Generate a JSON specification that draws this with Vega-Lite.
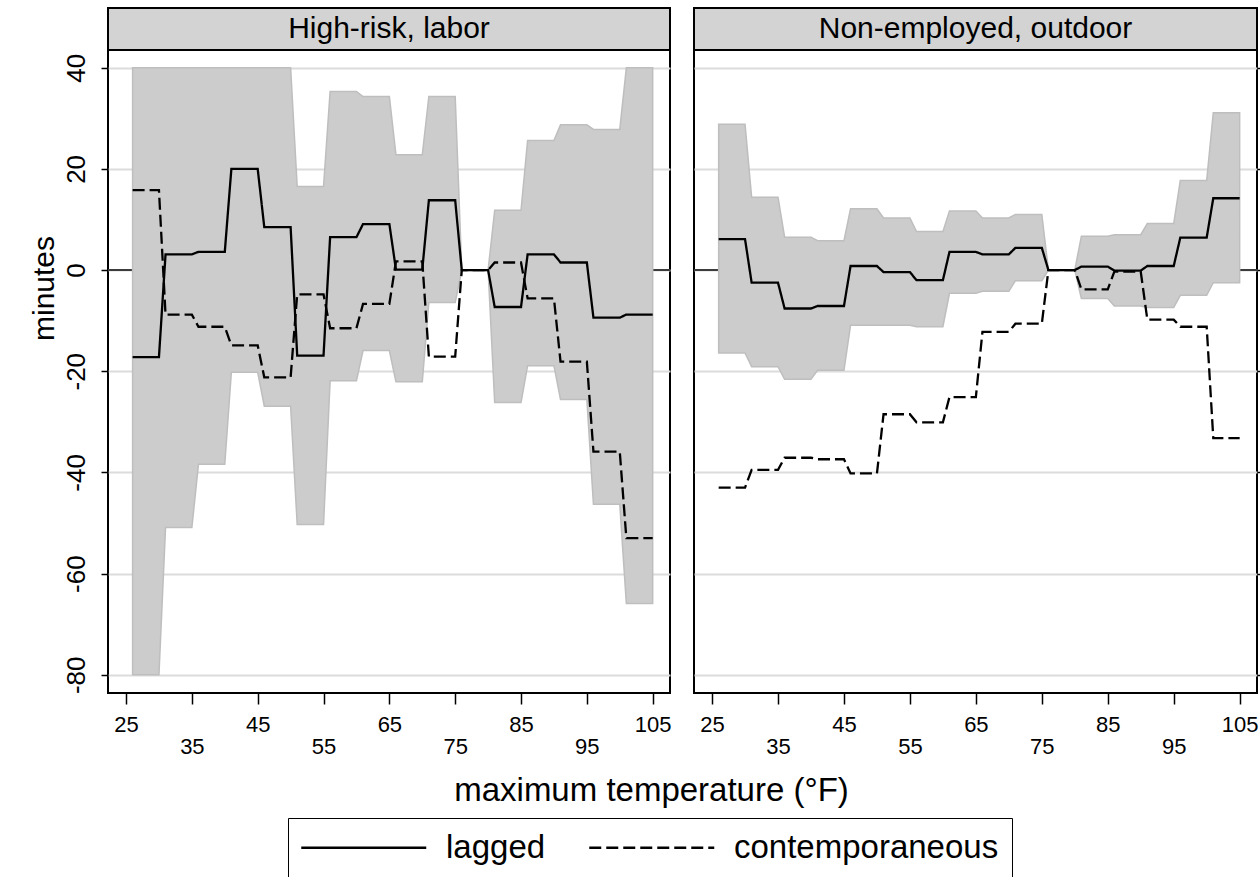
{
  "$schema": "https://vega.github.io/schema/vega-lite/v6.json",
  "padding": {"left": 28, "top": 7, "right": 0, "bottom": 0},
  "background": "white",
  "config": {
    "font": "Liberation Sans",
    "view": {"stroke": "black", "strokeWidth": 2}
  },
  "datasets": {
    "d": [
      {"p": "labor", "t": 26, "lagged": -17.2, "contemporaneous": 15.8, "lo": -80, "hi": 40},
      {"p": "labor", "t": 30, "lagged": -17.2, "contemporaneous": 15.8, "lo": -80, "hi": 40},
      {"p": "labor", "t": 31, "lagged": 3.1, "contemporaneous": -8.8, "lo": -50.9, "hi": 40},
      {"p": "labor", "t": 35, "lagged": 3.1, "contemporaneous": -8.8, "lo": -50.9, "hi": 40},
      {"p": "labor", "t": 36, "lagged": 3.6, "contemporaneous": -11.2, "lo": -38.4, "hi": 40},
      {"p": "labor", "t": 40, "lagged": 3.6, "contemporaneous": -11.2, "lo": -38.4, "hi": 40},
      {"p": "labor", "t": 41, "lagged": 20.0, "contemporaneous": -14.9, "lo": -20.2, "hi": 40},
      {"p": "labor", "t": 45, "lagged": 20.0, "contemporaneous": -14.9, "lo": -20.2, "hi": 40},
      {"p": "labor", "t": 46, "lagged": 8.5, "contemporaneous": -21.2, "lo": -26.9, "hi": 40},
      {"p": "labor", "t": 50, "lagged": 8.5, "contemporaneous": -21.2, "lo": -26.9, "hi": 40},
      {"p": "labor", "t": 51, "lagged": -16.9, "contemporaneous": -4.8, "lo": -50.3, "hi": 16.5},
      {"p": "labor", "t": 55, "lagged": -16.9, "contemporaneous": -4.8, "lo": -50.3, "hi": 16.5},
      {"p": "labor", "t": 56, "lagged": 6.5, "contemporaneous": -11.5, "lo": -21.9, "hi": 35.3},
      {"p": "labor", "t": 60, "lagged": 6.5, "contemporaneous": -11.5, "lo": -21.9, "hi": 35.3},
      {"p": "labor", "t": 61, "lagged": 9.1, "contemporaneous": -6.7, "lo": -15.9, "hi": 34.3},
      {"p": "labor", "t": 65, "lagged": 9.1, "contemporaneous": -6.7, "lo": -15.9, "hi": 34.3},
      {"p": "labor", "t": 66, "lagged": 0.1, "contemporaneous": 1.7, "lo": -22.1, "hi": 22.8},
      {"p": "labor", "t": 70, "lagged": 0.1, "contemporaneous": 1.7, "lo": -22.1, "hi": 22.8},
      {"p": "labor", "t": 71, "lagged": 13.8, "contemporaneous": -17.1, "lo": -6.4, "hi": 34.3},
      {"p": "labor", "t": 75, "lagged": 13.8, "contemporaneous": -17.1, "lo": -6.4, "hi": 34.3},
      {"p": "labor", "t": 76, "lagged": 0, "contemporaneous": 0, "lo": 0, "hi": 0},
      {"p": "labor", "t": 80, "lagged": 0, "contemporaneous": 0, "lo": 0, "hi": 0},
      {"p": "labor", "t": 81, "lagged": -7.3, "contemporaneous": 1.5, "lo": -26.2, "hi": 11.8},
      {"p": "labor", "t": 85, "lagged": -7.3, "contemporaneous": 1.5, "lo": -26.2, "hi": 11.8},
      {"p": "labor", "t": 86, "lagged": 3.1, "contemporaneous": -5.6, "lo": -18.9, "hi": 25.6},
      {"p": "labor", "t": 90, "lagged": 3.1, "contemporaneous": -5.6, "lo": -18.9, "hi": 25.6},
      {"p": "labor", "t": 91, "lagged": 1.5, "contemporaneous": -18.1, "lo": -25.6, "hi": 28.7},
      {"p": "labor", "t": 95, "lagged": 1.5, "contemporaneous": -18.1, "lo": -25.6, "hi": 28.7},
      {"p": "labor", "t": 96, "lagged": -9.4, "contemporaneous": -35.9, "lo": -46.3, "hi": 27.8},
      {"p": "labor", "t": 100, "lagged": -9.4, "contemporaneous": -35.9, "lo": -46.3, "hi": 27.8},
      {"p": "labor", "t": 101, "lagged": -8.8, "contemporaneous": -53.0, "lo": -65.9, "hi": 40},
      {"p": "labor", "t": 105, "lagged": -8.8, "contemporaneous": -53.0, "lo": -65.9, "hi": 40},
      {"p": "outdoor", "t": 26, "lagged": 6.1, "contemporaneous": -43.0, "lo": -16.4, "hi": 28.8},
      {"p": "outdoor", "t": 30, "lagged": 6.1, "contemporaneous": -43.0, "lo": -16.4, "hi": 28.8},
      {"p": "outdoor", "t": 31, "lagged": -2.5, "contemporaneous": -39.5, "lo": -19.1, "hi": 14.4},
      {"p": "outdoor", "t": 35, "lagged": -2.5, "contemporaneous": -39.5, "lo": -19.1, "hi": 14.4},
      {"p": "outdoor", "t": 36, "lagged": -7.6, "contemporaneous": -37.1, "lo": -21.6, "hi": 6.5},
      {"p": "outdoor", "t": 40, "lagged": -7.6, "contemporaneous": -37.1, "lo": -21.6, "hi": 6.5},
      {"p": "outdoor", "t": 41, "lagged": -7.1, "contemporaneous": -37.4, "lo": -19.8, "hi": 5.8},
      {"p": "outdoor", "t": 45, "lagged": -7.1, "contemporaneous": -37.4, "lo": -19.8, "hi": 5.8},
      {"p": "outdoor", "t": 46, "lagged": 0.8, "contemporaneous": -40.2, "lo": -10.9, "hi": 12.1},
      {"p": "outdoor", "t": 50, "lagged": 0.8, "contemporaneous": -40.2, "lo": -10.9, "hi": 12.1},
      {"p": "outdoor", "t": 51, "lagged": -0.4, "contemporaneous": -28.5, "lo": -10.9, "hi": 10.3},
      {"p": "outdoor", "t": 55, "lagged": -0.4, "contemporaneous": -28.5, "lo": -10.9, "hi": 10.3},
      {"p": "outdoor", "t": 56, "lagged": -2.0, "contemporaneous": -30.1, "lo": -11.2, "hi": 7.6},
      {"p": "outdoor", "t": 60, "lagged": -2.0, "contemporaneous": -30.1, "lo": -11.2, "hi": 7.6},
      {"p": "outdoor", "t": 61, "lagged": 3.6, "contemporaneous": -25.1, "lo": -4.6, "hi": 11.7},
      {"p": "outdoor", "t": 65, "lagged": 3.6, "contemporaneous": -25.1, "lo": -4.6, "hi": 11.7},
      {"p": "outdoor", "t": 66, "lagged": 3.1, "contemporaneous": -12.2, "lo": -4.2, "hi": 10.3},
      {"p": "outdoor", "t": 70, "lagged": 3.1, "contemporaneous": -12.2, "lo": -4.2, "hi": 10.3},
      {"p": "outdoor", "t": 71, "lagged": 4.4, "contemporaneous": -10.6, "lo": -2.1, "hi": 11.0},
      {"p": "outdoor", "t": 75, "lagged": 4.4, "contemporaneous": -10.6, "lo": -2.1, "hi": 11.0},
      {"p": "outdoor", "t": 76, "lagged": 0, "contemporaneous": 0, "lo": 0, "hi": 0},
      {"p": "outdoor", "t": 80, "lagged": 0, "contemporaneous": 0, "lo": 0, "hi": 0},
      {"p": "outdoor", "t": 81, "lagged": 0.7, "contemporaneous": -3.8, "lo": -5.6, "hi": 6.7},
      {"p": "outdoor", "t": 85, "lagged": 0.7, "contemporaneous": -3.8, "lo": -5.6, "hi": 6.7},
      {"p": "outdoor", "t": 86, "lagged": -0.1, "contemporaneous": -0.3, "lo": -7.1, "hi": 7.0},
      {"p": "outdoor", "t": 90, "lagged": -0.1, "contemporaneous": -0.3, "lo": -7.1, "hi": 7.0},
      {"p": "outdoor", "t": 91, "lagged": 0.8, "contemporaneous": -9.8, "lo": -7.4, "hi": 9.2},
      {"p": "outdoor", "t": 95, "lagged": 0.8, "contemporaneous": -9.8, "lo": -7.4, "hi": 9.2},
      {"p": "outdoor", "t": 96, "lagged": 6.4, "contemporaneous": -11.2, "lo": -5.0, "hi": 17.7},
      {"p": "outdoor", "t": 100, "lagged": 6.4, "contemporaneous": -11.2, "lo": -5.0, "hi": 17.7},
      {"p": "outdoor", "t": 101, "lagged": 14.2, "contemporaneous": -33.2, "lo": -2.5, "hi": 31.1},
      {"p": "outdoor", "t": 105, "lagged": 14.2, "contemporaneous": -33.2, "lo": -2.5, "hi": 31.1}
    ]
  },
  "columns": 2,
  "bounds": "flush",
  "spacing": {"row": 0, "column": 24},
  "concat": [
    {
      "width": 562, "height": 42,
      "view": {"fill": "#d3d3d3", "stroke": "black", "strokeWidth": 2},
      "data": {"values": [{"h": "High-risk, labor"}]},
      "mark": {"type": "text", "fontSize": 30, "font": "Liberation Sans", "color": "black", "baseline": "middle", "align": "center"},
      "encoding": {"text": {"field": "h"}}
    },
    {
      "width": 563, "height": 42,
      "view": {"fill": "#d3d3d3", "stroke": "black", "strokeWidth": 2},
      "data": {"values": [{"h": "Non-employed, outdoor"}]},
      "mark": {"type": "text", "fontSize": 30, "font": "Liberation Sans", "color": "black", "baseline": "middle", "align": "center"},
      "encoding": {"text": {"field": "h"}}
    },
    {
      "width": 562, "height": 643,
      "data": {"name": "d"},
      "transform": [{"filter": "datum.p == 'labor'"}],
      "layer": [
        {
          "mark": {"type": "rule", "color": "#3c3c3c", "strokeWidth": 2},
          "encoding": {"y": {"datum": 0, "type": "quantitative", "scale": {"domain": [-83.6, 43.5], "nice": false, "zero": false}}}
        },
        {
          "mark": {"type": "area", "fill": "#cccccc", "stroke": "#bebebe", "strokeWidth": 1.5},
          "encoding": {
            "x": {"field": "t", "type": "quantitative", "scale": {"domain": [22.26, 107.63], "nice": false, "zero": false},
              "axis": {"values": [25, 30, 35, 40, 45, 50, 55, 60, 65, 70, 75, 80, 85, 90, 95, 100, 105], "grid": false, "domain": false,
                "tickColor": "black", "tickWidth": 1.5,
                "tickSize": {"condition": {"test": "(datum.value - 25) % 10 == 0", "value": 11}, "value": 6},
                "labelExpr": "(datum.value - 25) % 20 == 0 ? datum.label : ((datum.value - 25) % 20 == 10 ? ['', datum.label] : '')",
                "labelFont": "Liberation Sans", "labelFontSize": 22, "labelLineHeight": 22, "labelColor": "black",
                "labelBaseline": "top", "labelPadding": 10, "labelOverlap": false, "labelFlush": false, "labelBound": false,
                "title": "maximum temperature (°F)", "titleFont": "Liberation Sans", "titleFontSize": 33, "titleFontWeight": "normal", "titleColor": "black",
                "titleX": 543, "titleY": 107, "titleBaseline": "alphabetic", "titleAlign": "center"}},
            "y": {"field": "lo", "type": "quantitative", "scale": {"domain": [-83.6, 43.5], "nice": false, "zero": false},
              "axis": {"orient": "left", "values": [-80, -60, -40, -20, 0, 20, 40], "grid": true, "gridColor": "#dcdcdc", "gridWidth": 2,
                "domain": false, "tickSize": 7, "tickWidth": 1.5, "tickColor": "black",
                "labelAngle": -90, "labelAlign": "center", "labelBaseline": "alphabetic", "labelPadding": 17,
                "labelFont": "Liberation Sans", "labelFontSize": 26, "labelColor": "black", "labelExpr": "'' + datum.value",
                "labelOverlap": false, "labelBound": false,
                "title": "minutes", "titleFont": "Liberation Sans", "titleFontSize": 30, "titleFontWeight": "normal", "titleColor": "black",
                "titleX": -55, "titleY": 238, "titleBaseline": "alphabetic"}},
            "y2": {"field": "hi"}
          }
        },
        {
          "transform": [{"fold": ["lagged", "contemporaneous"], "as": ["series", "v"]}],
          "mark": {"type": "line", "color": "black", "strokeWidth": 2.3},
          "encoding": {
            "x": {"field": "t", "type": "quantitative"},
            "y": {"field": "v", "type": "quantitative"},
            "strokeDash": {"field": "series", "type": "nominal",
              "scale": {"domain": ["lagged", "contemporaneous"], "range": [[1, 0], [12, 5]]},
              "legend": {"title": null, "orient": "none", "legendX": 180, "legendY": 810, "direction": "horizontal",
                "symbolType": "M-13,0H87", "symbolSize": 6.25, "symbolStrokeWidth": 2.5, "symbolStrokeColor": "black",
                "labelFont": "Liberation Sans", "labelFontSize": 33, "labelColor": "black", "labelOffset": 112, "labelLimit": 600,
                "columnPadding": 38, "padding": 13, "strokeColor": "black"}}
          }
        }
      ]
    },
    {
      "width": 563, "height": 643,
      "data": {"name": "d"},
      "transform": [{"filter": "datum.p == 'outdoor'"}],
      "layer": [
        {
          "mark": {"type": "rule", "color": "#3c3c3c", "strokeWidth": 2},
          "encoding": {"y": {"datum": 0, "type": "quantitative", "scale": {"domain": [-83.6, 43.5], "nice": false, "zero": false}}}
        },
        {
          "mark": {"type": "area", "fill": "#cccccc", "stroke": "#bebebe", "strokeWidth": 1.5},
          "encoding": {
            "x": {"field": "t", "type": "quantitative", "scale": {"domain": [22.26, 107.63], "nice": false, "zero": false},
              "axis": {"values": [25, 30, 35, 40, 45, 50, 55, 60, 65, 70, 75, 80, 85, 90, 95, 100, 105], "grid": false, "domain": false,
                "tickColor": "black", "tickWidth": 1.5,
                "tickSize": {"condition": {"test": "(datum.value - 25) % 10 == 0", "value": 11}, "value": 6},
                "labelExpr": "(datum.value - 25) % 20 == 0 ? datum.label : ((datum.value - 25) % 20 == 10 ? ['', datum.label] : '')",
                "labelFont": "Liberation Sans", "labelFontSize": 22, "labelLineHeight": 22, "labelColor": "black",
                "labelBaseline": "top", "labelPadding": 10, "labelOverlap": false, "labelFlush": false, "labelBound": false,
                "title": null}},
            "y": {"field": "lo", "type": "quantitative", "scale": {"domain": [-83.6, 43.5], "nice": false, "zero": false},
              "axis": {"orient": "right", "values": [-80, -60, -40, -20, 0, 20, 40], "grid": true, "gridColor": "#dcdcdc", "gridWidth": 2,
                "domain": false, "tickSize": 4, "tickWidth": 1.5, "tickColor": "black", "labels": false, "title": null}},
            "y2": {"field": "hi"}
          }
        },
        {
          "transform": [{"fold": ["lagged", "contemporaneous"], "as": ["series", "v"]}],
          "mark": {"type": "line", "color": "black", "strokeWidth": 2.3},
          "encoding": {
            "x": {"field": "t", "type": "quantitative"},
            "y": {"field": "v", "type": "quantitative"},
            "strokeDash": {"field": "series", "type": "nominal",
              "scale": {"domain": ["lagged", "contemporaneous"], "range": [[1, 0], [12, 5]]},
              "legend": {"title": null, "orient": "none", "legendX": 180, "legendY": 810, "direction": "horizontal",
                "symbolType": "M-13,0H87", "symbolSize": 6.25, "symbolStrokeWidth": 2.5, "symbolStrokeColor": "black",
                "labelFont": "Liberation Sans", "labelFontSize": 33, "labelColor": "black", "labelOffset": 112, "labelLimit": 600,
                "columnPadding": 38, "padding": 13, "strokeColor": "black"}}
          }
        }
      ]
    }
  ]
}
